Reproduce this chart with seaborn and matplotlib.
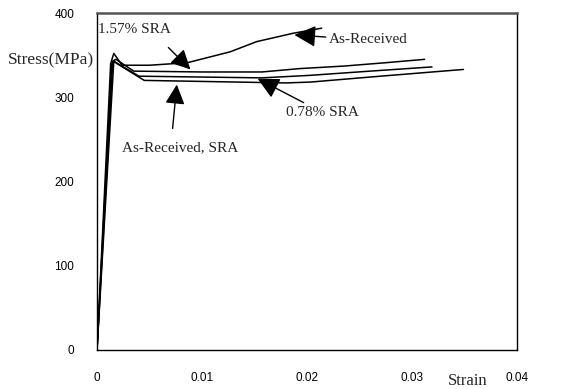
import numpy as np
import pandas as pd
import seaborn as sns
import matplotlib.pyplot as plt

# --- dados ---
strain_ar = [0, 0.0013, 0.0016, 0.0024, 0.005, 0.0086, 0.0105, 0.0127, 0.0152, 0.0187, 0.0214]
stress_ar = [0, 340, 352, 338, 338, 341, 347, 354, 366, 376, 382]

strain_157 = [0, 0.0015, 0.0018, 0.0035, 0.010, 0.0157, 0.0193, 0.0235, 0.0275, 0.0312]
stress_157 = [0, 343, 345, 331, 330, 330, 334, 337, 341, 345]

strain_078 = [0, 0.0014, 0.0017, 0.0040, 0.0157, 0.0203, 0.0260, 0.0319]
stress_078 = [0, 340, 342, 325, 323, 326, 331, 336]

strain_arsra = [0, 0.0016, 0.0019, 0.0045, 0.0180, 0.0203, 0.0270, 0.0349]
stress_arsra = [0, 343, 340, 320, 317, 318, 325, 333]

curves = {
    "As-Received": (strain_ar, stress_ar),
    "1.57% SRA": (strain_157, stress_157),
    "0.78% SRA": (strain_078, stress_078),
    "As-Received, SRA": (strain_arsra, stress_arsra),
}

x_ticks = [0, 0.01, 0.02, 0.03, 0.04]
x_tick_labels = ["0", "0.01", "0.02", "0.03", "0.04"]
y_ticks = [0, 100, 200, 300, 400]

rows = []
for name, (xs, ys) in curves.items():
    for i, (x, y) in enumerate(zip(xs, ys)):
        rows.append({"curve": name, "order": i, "strain": x, "stress": y})
df = pd.DataFrame(rows)

# --- estilo ---
sns.set_style("white")
plt.rcParams["font.family"] = ["Liberation Sans", "DejaVu Sans"]

fig = plt.figure(figsize=(5.62, 3.89), dpi=100)
ax = fig.add_axes([97 / 562, 39 / 389, 420 / 562, 337 / 389])

sns.lineplot(
    data=df, x="strain", y="stress", units="curve", estimator=None,
    sort=False, color="black", linewidth=1.1, ax=ax, legend=False
)

ax.set_xlim(0, 0.04)
ax.set_ylim(0, 400)
ax.set_xticks(x_ticks)
ax.set_xticklabels(x_tick_labels)
ax.set_yticks(y_ticks)
ax.tick_params(direction="inout", length=9, width=1, color="black",
               labelsize=8.5, labelcolor="black")
ax.tick_params(axis="x", pad=11)
ax.tick_params(axis="y", pad=12)

for side in ["left", "bottom", "right"]:
    ax.spines[side].set_color("black")
    ax.spines[side].set_linewidth(1)
ax.spines["top"].set_color("#555555")
ax.spines["top"].set_linewidth(1.8)

serif = ["Liberation Serif", "DejaVu Serif"]
ax.set_xlabel("Strain", family=serif, fontsize=12, va="center", ha="center")
ax.xaxis.set_label_coords(0.882, -0.092)
ax.set_ylabel("Stress(MPa)", family=serif, fontsize=12.5, rotation=0,
              ha="right", va="center")
ax.yaxis.set_label_coords(-0.007, 0.86)

arrow = dict(arrowstyle="-|>,head_length=1.2,head_width=0.6",
             color="black", lw=1, shrinkA=0, shrinkB=0)

ax.annotate("", xy=(0.0089, 333), xytext=(0.0068, 359), arrowprops=arrow)
ax.text(0.0036, 380, "1.57% SRA", fontsize=11, family=serif,
        ha="center", va="center")
ax.annotate("As-Received", xy=(0.0188, 374), xytext=(0.0221, 368),
            fontsize=11, family=serif, ha="left", va="center",
            arrowprops=arrow)
ax.annotate("0.78% SRA", xy=(0.0153, 322), xytext=(0.0180, 282),
            fontsize=11, family=serif, ha="left", va="center",
            arrowprops=arrow)
ax.annotate("", xy=(0.0076, 315), xytext=(0.0072, 263),
            arrowprops=arrow)
ax.text(0.0079, 240, "As-Received, SRA", fontsize=11, family=serif,
        ha="center", va="center")

fig.savefig("out.png", dpi=100)
